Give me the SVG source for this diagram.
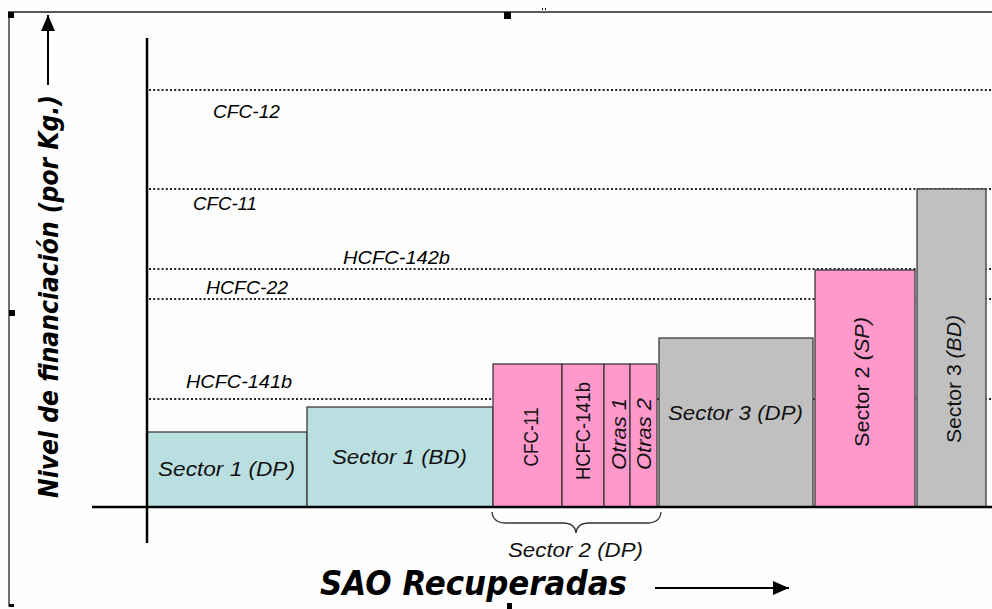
<svg xmlns="http://www.w3.org/2000/svg" width="992" height="609" viewBox="0 0 992 609">
<style>
.bg{fill:#fefefe}
.frame{stroke:#222;stroke-width:1.3;fill:none}
.handle{fill:#000}
.axis{stroke:#000;stroke-width:2.5;fill:none}
.dot{stroke:#222;stroke-width:2;stroke-dasharray:2 2.2;fill:none}
.lvl{font-family:"Liberation Sans",Arial,sans-serif;font-style:italic;font-size:18px;fill:#000}
.blue{fill:#b9dfe1;stroke:#3a3a3a;stroke-width:1.3}
.pink{fill:#ff99cc;stroke:#3a3a3a;stroke-width:1.3}
.gray{fill:#c0c0c0;stroke:#3a3a3a;stroke-width:1.3}
.lbl{font-family:"Liberation Sans",Arial,sans-serif;font-style:italic;font-size:20px;fill:#111}
.lbln{font-family:"Liberation Sans",Arial,sans-serif;font-size:20px;fill:#111}
.title{font-family:"DejaVu Sans",Verdana,sans-serif;font-weight:bold;font-style:italic;fill:#000}
.brace{stroke:#333;stroke-width:1.3;fill:none}
.arr{stroke:#000;stroke-width:2;fill:none}
</style>
<defs>
<marker id="ah" viewBox="0 0 16 14" refX="16" refY="7" markerWidth="16" markerHeight="14" markerUnits="userSpaceOnUse" orient="auto">
<path d="M0,0 L16,7 L0,14 Z" fill="#000"/>
</marker>
</defs>
<rect class="bg" x="0" y="0" width="992" height="609"/>

<g id="frame">
<path class="frame" d="M8,12 L992,12 M9,12 L9,606 L14,606"/>
<rect class="handle" x="8" y="12" width="6" height="6"/>
<rect class="handle" x="504" y="12" width="7" height="7"/>
<rect class="handle" x="9" y="310" width="6" height="6"/>
<rect class="handle" x="507" y="603" width="5" height="6"/>
<rect class="handle" x="9" y="604" width="5" height="3"/>
<rect class="handle" x="542" y="8" width="1" height="2"/>
<rect class="handle" x="545" y="8" width="1" height="2"/>
</g>

<g id="levels">
<line class="dot" x1="149" y1="90" x2="992" y2="90"/>
<line class="dot" x1="149" y1="189" x2="992" y2="189"/>
<line class="dot" x1="149" y1="269" x2="992" y2="269"/>
<line class="dot" x1="149" y1="299" x2="992" y2="299"/>
<line class="dot" x1="149" y1="399" x2="992" y2="399"/>
<text class="lvl" x="213" y="118" textLength="67" lengthAdjust="spacingAndGlyphs">CFC-12</text>
<text class="lvl" x="193" y="210" textLength="64" lengthAdjust="spacingAndGlyphs">CFC-11</text>
<text class="lvl" x="343" y="264" textLength="107" lengthAdjust="spacingAndGlyphs">HCFC-142b</text>
<text class="lvl" x="206" y="294" textLength="82" lengthAdjust="spacingAndGlyphs">HCFC-22</text>
<text class="lvl" x="186" y="388" textLength="106" lengthAdjust="spacingAndGlyphs">HCFC-141b</text>
</g>

<g id="sector1-dp">
<rect class="blue" x="147" y="432" width="160" height="75"/>
<text class="lbl" x="158" y="476" textLength="137" lengthAdjust="spacingAndGlyphs">Sector 1 (DP)</text>
</g>
<g id="sector1-bd">
<rect class="blue" x="307" y="407" width="186" height="100"/>
<text class="lbl" x="332" y="464" textLength="135" lengthAdjust="spacingAndGlyphs">Sector 1 (BD)</text>
</g>
<g id="sector2-dp-cfc11">
<rect class="pink" x="493" y="364" width="69" height="143"/>
<text class="lbln" transform="translate(538,437) rotate(-90)" text-anchor="middle" textLength="59" lengthAdjust="spacingAndGlyphs">CFC-11</text>
</g>
<g id="sector2-dp-hcfc141b">
<rect class="pink" x="562" y="364" width="42" height="143"/>
<text class="lbln" transform="translate(590,431) rotate(-90)" text-anchor="middle" textLength="98" lengthAdjust="spacingAndGlyphs">HCFC-141b</text>
</g>
<g id="sector2-dp-otras1">
<rect class="pink" x="604" y="364" width="26" height="143"/>
<text class="lbl" transform="translate(626,434) rotate(-90)" text-anchor="middle" textLength="72" lengthAdjust="spacingAndGlyphs">Otras 1</text>
</g>
<g id="sector2-dp-otras2">
<rect class="pink" x="630" y="364" width="27" height="143"/>
<text class="lbl" transform="translate(651,434) rotate(-90)" text-anchor="middle" textLength="72" lengthAdjust="spacingAndGlyphs">Otras 2</text>
</g>
<g id="sector3-dp">
<rect class="gray" x="659" y="338" width="154" height="169"/>
<text class="lbl" x="668" y="420" textLength="135" lengthAdjust="spacingAndGlyphs">Sector 3 (DP)</text>
</g>
<g id="sector2-sp">
<rect class="pink" x="815" y="270" width="100" height="237"/>
<text class="lbln" transform="translate(869,382) rotate(-90)" text-anchor="middle" textLength="130" lengthAdjust="spacingAndGlyphs">Sector 2 <tspan font-style="italic">(SP)</tspan></text>
</g>
<g id="sector3-bd">
<rect class="gray" x="917" y="189" width="69" height="318"/>
<text class="lbln" transform="translate(961,379) rotate(-90)" text-anchor="middle" textLength="128" lengthAdjust="spacingAndGlyphs">Sector 3 <tspan font-style="italic">(BD)</tspan></text>
</g>

<g id="axes">
<line class="axis" x1="147" y1="38" x2="147" y2="543"/>
<line class="axis" x1="92" y1="507" x2="992" y2="507"/>
</g>

<g id="connectors">
<path class="brace" d="M492,512 Q493,523 506,523 L563,523 Q575,523 576,533 Q577,523 589,523 L647,523 Q660,523 661,512"/>
<line class="arr" x1="48" y1="85" x2="48" y2="15" marker-end="url(#ah)"/>
<line class="arr" x1="655" y1="588" x2="789" y2="588" marker-end="url(#ah)"/>
</g>

<g id="brace-label">
<text class="lbl" x="508" y="557" textLength="135" lengthAdjust="spacingAndGlyphs">Sector 2 (DP)</text>
</g>

<g id="axis-titles">
<text class="title" font-size="27" transform="translate(58,296.5) rotate(-90)" text-anchor="middle" textLength="403" lengthAdjust="spacingAndGlyphs">Nivel de financiación (por Kg.)</text>
<text class="title" font-size="33" x="320" y="595" textLength="307" lengthAdjust="spacingAndGlyphs">SAO Recuperadas</text>
</g>
</svg>
